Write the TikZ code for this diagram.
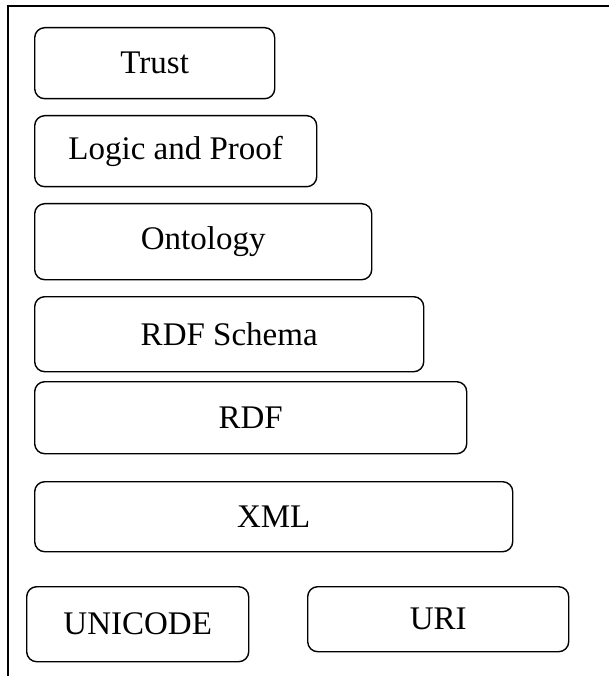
\documentclass[tikz,border=0pt]{standalone}
\usepackage{fontspec}
\setmainfont{Liberation Serif}
\usepackage{tikz}
\usetikzlibrary{shapes,positioning}
\tikzstyle{block} = [rectangle, draw, line width=1.4pt, fill=white,
    rounded corners=10pt, anchor=north west, inner sep=0pt,
    font=\fontsize{33}{36}\selectfont]
\tikzstyle{frame} = [draw, line width=1.6pt]

\begin{document}
\begin{tikzpicture}[x=1pt, y=-1pt]
    \useasboundingbox (0,0) rectangle (609,676);
    % Outer frame
    \path [frame] (609,6) -- (8,6) -- (8,676);
    % Place nodes
    \node [block, minimum width=240pt, minimum height=71pt] (trust) at (34,27) {Trust};
    \node [block, minimum width=282pt, minimum height=71pt] (logic) at (34,115) {Logic and Proof};
    \node [block, minimum width=337pt, minimum height=76pt] (ontology) at (34,203) {Ontology};
    \node [block, minimum width=389pt, minimum height=75pt] (rdfs) at (34,296) {RDF Schema};
    \node [block, minimum width=432pt, minimum height=72pt] (rdf) at (34,381) {RDF};
    \node [block, minimum width=478pt, minimum height=70pt] (xml) at (34,481) {XML};
    \node [block, minimum width=222pt, minimum height=75pt] (unicode) at (26,586) {UNICODE};
    \node [block, minimum width=261pt, minimum height=65pt] (uri) at (307,586) {URI};
\end{tikzpicture}
\end{document}
